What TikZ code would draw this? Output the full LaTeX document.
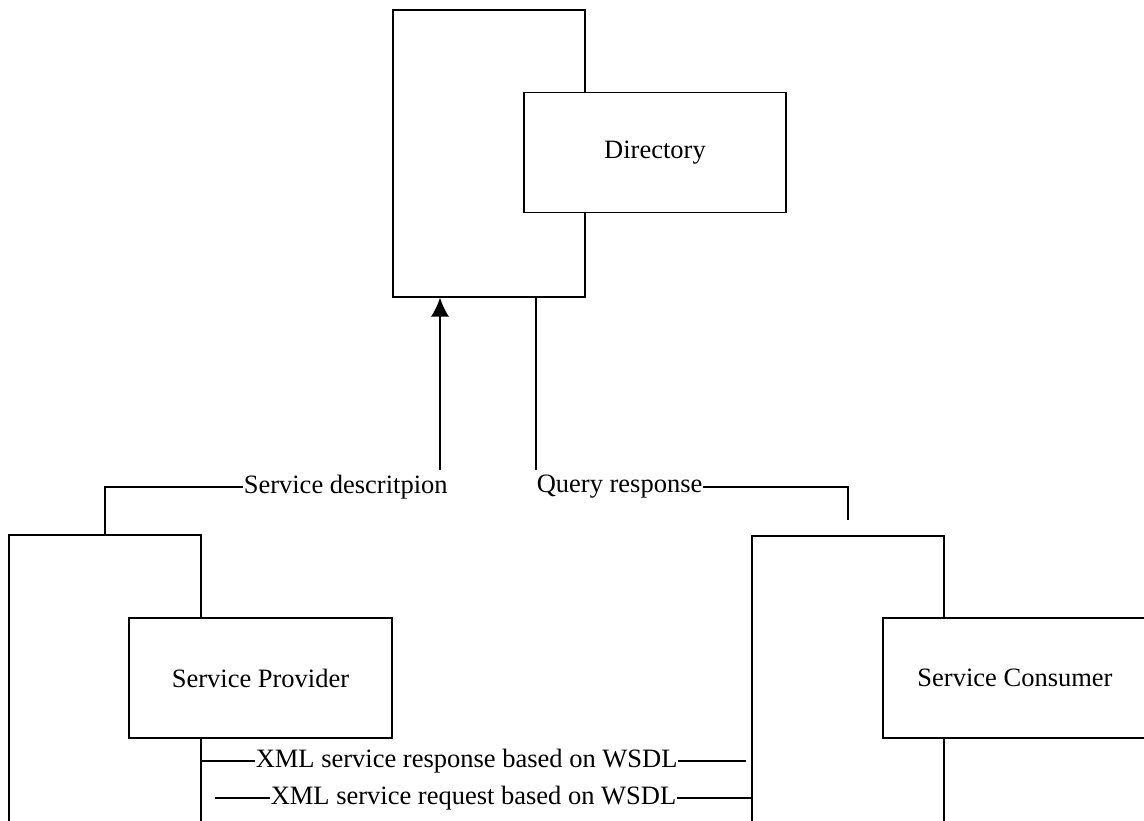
\documentclass[tikz,border=0pt]{standalone}
\usepackage{fontspec}
\setmainfont{Liberation Serif}
\usetikzlibrary{calc,arrows.meta,positioning}

\begin{document}
\begin{tikzpicture}[x=1pt,y=-1pt,line width=1.6pt,
    backbox/.style={draw,anchor=north west,inner sep=0pt,minimum width=192pt},
    frontbox/.style={draw,fill=white,inner sep=0pt,minimum width=263pt,minimum height=120pt,
      font=\fontsize{26.5pt}{30pt}\selectfont},
    lbl/.style={anchor=west,inner sep=0pt,font=\fontsize{26.5pt}{30pt}\selectfont}]
                 \useasboundingbox (0,0) rectangle (1144,820);
                 % directory
                 \node[backbox,minimum height=287pt](dirback)at(392,9){};
                 \node[frontbox,minimum width=262pt](dir)at(655,152.5){Directory};
                 % provider and consumer
                 \node[backbox,minimum height=400pt](provback)at(8,534){};
                 \node[frontbox](prov)at(260.5,678){Service Provider};
                 \node[backbox,minimum height=400pt](consback)at(751,535){};
                 \node[frontbox,minimum width=264pt](cons)at(1015,678){Service Consumer};
                 % labels
                 \node[lbl](sdlabel)at(243,487){Service descritpion};
                 \node[lbl](qrlabel)at(536,487){Query response};
                 \node[lbl](resp)at(255,761){XML service response based on WSDL};
                 \node[lbl](req)at(270,798){XML service request based on WSDL};
                 \coordinate (sdtop) at (440,470);
                 \coordinate (qrtop) at (536,470);
                 \coordinate (qrend) at (848,520);
                 \coordinate (respend) at (746,761);
                 \coordinate (reqstart) at (215,798);
                 % connectors
                 \draw[-{Latex[length=19pt,width=18pt]}](sdtop)--(sdtop |- dirback.south);
                 \draw(sdlabel.west)-|(provback.north);
                 \draw(qrtop)--(qrtop |- dirback.south);
                 \draw(qrlabel.east)-|(qrend);
                 \draw(provback.east |- resp)--(resp.west);
                 \draw(resp.east)--(respend);
                 \draw(reqstart)--(req.west);
                 \draw(req.east)--(consback.west |- req);
               \end{tikzpicture}
\end{document}
